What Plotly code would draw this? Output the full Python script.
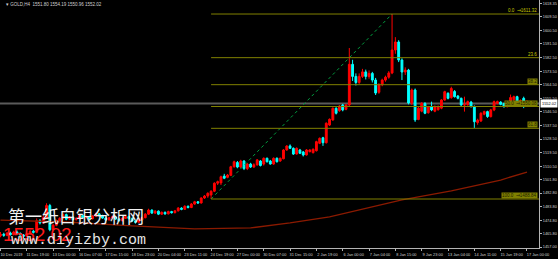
import plotly.graph_objects as go

symbol_title = "GOLD,H4  1551.80 1554.19 1550.96 1552.02"

opens = [1464.5, 1465.5, 1464.8, 1466.3, 1465.2, 1467.0, 1466.0, 1465.0, 1464.2, 1465.8,
         1467.5, 1466.8, 1474.5, 1473.0, 1476.5, 1484.5, 1468.5, 1471.5, 1474.5, 1476.0,
         1478.5, 1475.5, 1476.8, 1475.2, 1476.0, 1478.0, 1476.5, 1477.2, 1475.8, 1477.5,
         1479.0, 1477.8, 1476.2, 1475.0, 1476.4, 1477.0, 1475.6, 1474.5, 1476.0, 1477.2,
         1476.0, 1474.2, 1473.5, 1475.0, 1476.5, 1478.8, 1481.5, 1479.5, 1480.8, 1478.8,
         1480.0, 1479.0, 1480.5, 1479.8, 1481.0, 1482.8, 1482.0, 1484.0, 1483.2, 1485.5,
         1487.0, 1486.2, 1489.5, 1490.8, 1491.5, 1494.0, 1499.3, 1499.5, 1504.0, 1503.2,
         1504.5, 1510.2, 1513.0, 1510.0, 1514.0, 1509.0, 1512.0, 1510.0, 1511.4, 1514.0,
         1512.0, 1515.8, 1514.0, 1512.0, 1515.8, 1514.0, 1515.5, 1521.3, 1524.0, 1522.4,
         1518.6, 1521.3, 1520.0, 1518.0, 1520.2, 1519.5, 1520.8, 1525.7, 1529.4, 1526.1,
         1537.8, 1541.2, 1548.9, 1547.3, 1551.1, 1548.2, 1551.1, 1578.0, 1570.0, 1566.0,
         1570.0, 1573.0, 1570.0, 1572.0, 1567.6, 1559.5, 1564.5, 1567.6, 1569.5, 1572.3,
         1587.5, 1592.8, 1580.9, 1572.9, 1574.2, 1552.4, 1561.0, 1541.5, 1547.0, 1552.0,
         1546.0, 1550.0, 1547.0, 1548.0, 1549.0, 1554.4, 1558.8, 1556.0, 1560.0, 1557.0,
         1555.5, 1551.1, 1551.3, 1553.0, 1550.0, 1539.5, 1540.5, 1545.0, 1546.7, 1543.4,
         1547.8, 1552.2, 1553.0, 1552.0, 1550.0, 1551.0, 1554.5, 1556.6, 1552.5, 1555.5,
         1551.8]
highs = [1467.0, 1466.5, 1467.0, 1467.2, 1467.8, 1468.0, 1466.8, 1465.6, 1466.4, 1468.2,
         1468.4, 1476.0, 1475.6, 1478.0, 1486.0, 1485.6, 1472.2, 1475.2, 1476.8, 1479.4,
         1479.2, 1477.6, 1477.4, 1476.7, 1478.8, 1478.6, 1477.9, 1477.8, 1478.2, 1479.8,
         1479.6, 1478.4, 1476.9, 1477.0, 1477.8, 1477.5, 1476.2, 1476.6, 1477.9, 1477.7,
         1476.5, 1474.8, 1475.6, 1477.1, 1479.5, 1482.4, 1482.0, 1481.5, 1481.3, 1480.6,
         1480.6, 1481.1, 1481.0, 1481.6, 1483.5, 1483.4, 1484.7, 1484.6, 1486.2, 1487.6,
         1487.5, 1490.0, 1491.5, 1493.3, 1494.6, 1499.9, 1501.0, 1504.3, 1505.5, 1505.4,
         1510.8, 1514.2, 1514.0, 1514.8, 1514.6, 1512.6, 1512.8, 1512.5, 1515.3, 1514.6,
         1516.4, 1516.3, 1514.7, 1516.4, 1516.4, 1516.3, 1521.9, 1524.5, 1525.0, 1523.0,
         1523.0, 1522.0, 1520.6, 1521.9, 1521.8, 1522.3, 1527.4, 1529.6, 1530.0, 1539.6,
         1542.2, 1549.5, 1549.6, 1551.0, 1551.8, 1551.7, 1588.8, 1581.0, 1572.0, 1572.0,
         1575.0, 1574.5, 1574.0, 1573.0, 1569.0, 1565.5, 1568.5, 1570.5, 1573.5, 1611.32,
         1596.0, 1594.0, 1582.0, 1576.0, 1575.0, 1562.0, 1562.0, 1550.0, 1553.0, 1553.0,
         1550.5, 1553.3, 1550.8, 1550.8, 1555.0, 1560.5, 1559.5, 1563.2, 1561.0, 1557.7,
         1556.0, 1556.6, 1554.0, 1553.8, 1550.8, 1542.0, 1546.3, 1547.3, 1547.3, 1548.5,
         1554.0, 1554.0, 1553.6, 1552.6, 1551.8, 1558.0, 1557.3, 1557.2, 1554.8, 1556.6,
         1554.19]
lows = [1463.5, 1463.8, 1464.2, 1464.6, 1464.8, 1465.4, 1464.3, 1462.5, 1463.6, 1465.2,
        1466.0, 1466.2, 1472.0, 1472.4, 1476.0, 1467.5, 1467.8, 1470.8, 1473.6, 1475.4,
        1474.8, 1474.9, 1474.6, 1474.5, 1475.5, 1475.9, 1476.0, 1475.2, 1475.3, 1477.0,
        1477.2, 1475.7, 1474.4, 1474.6, 1475.9, 1475.0, 1473.8, 1474.0, 1475.6, 1475.4,
        1473.6, 1472.5, 1473.0, 1474.5, 1476.0, 1478.3, 1479.0, 1479.0, 1478.2, 1478.3,
        1478.4, 1478.6, 1479.2, 1479.3, 1480.6, 1481.4, 1481.6, 1482.6, 1482.8, 1485.0,
        1485.6, 1485.8, 1488.9, 1489.6, 1488.84, 1493.4, 1498.1, 1498.1, 1502.0, 1502.6,
        1504.0, 1509.6, 1509.2, 1509.4, 1508.0, 1508.0, 1509.4, 1509.5, 1511.0, 1510.4,
        1511.0, 1513.0, 1511.6, 1511.5, 1513.0, 1513.5, 1515.1, 1520.8, 1522.0, 1518.0,
        1518.2, 1518.6, 1517.0, 1517.6, 1519.7, 1519.0, 1520.3, 1525.2, 1524.0, 1525.6,
        1537.2, 1540.6, 1544.8, 1546.6, 1546.9, 1547.6, 1550.0, 1567.0, 1564.0, 1565.0,
        1569.0, 1568.0, 1568.5, 1566.0, 1557.7, 1558.5, 1563.5, 1566.5, 1568.5, 1571.5,
        1585.0, 1579.5, 1567.6, 1571.0, 1551.5, 1551.0, 1539.9, 1541.0, 1546.3, 1545.0,
        1545.3, 1547.0, 1546.3, 1547.3, 1548.3, 1553.8, 1554.8, 1555.2, 1556.0, 1554.8,
        1550.5, 1546.7, 1550.6, 1549.4, 1535.9, 1538.0, 1539.8, 1544.3, 1542.6, 1542.8,
        1547.0, 1551.6, 1550.9, 1549.3, 1549.5, 1550.4, 1553.9, 1551.6, 1551.9, 1549.0,
        1550.96]
closes = [1465.5, 1464.8, 1466.3, 1465.2, 1467.0, 1466.0, 1465.0, 1464.2, 1465.8, 1467.5,
          1466.8, 1474.5, 1473.0, 1476.5, 1484.5, 1468.5, 1471.5, 1474.5, 1476.0, 1478.5,
          1475.5, 1476.8, 1475.2, 1476.0, 1478.0, 1476.5, 1477.2, 1475.8, 1477.5, 1479.0,
          1477.8, 1476.2, 1475.0, 1476.4, 1477.0, 1475.6, 1474.5, 1476.0, 1477.2, 1476.0,
          1474.2, 1473.5, 1475.0, 1476.5, 1478.8, 1481.5, 1479.5, 1480.8, 1478.8, 1480.0,
          1479.0, 1480.5, 1479.8, 1481.0, 1482.8, 1482.0, 1484.0, 1483.2, 1485.5, 1487.0,
          1486.2, 1489.5, 1490.8, 1492.6, 1494.0, 1499.3, 1500.3, 1503.6, 1502.6, 1504.7,
          1510.2, 1513.5, 1510.0, 1514.0, 1509.0, 1512.0, 1510.0, 1511.5, 1514.7, 1511.0,
          1515.8, 1513.5, 1512.0, 1515.8, 1513.5, 1515.8, 1521.3, 1523.9, 1522.4, 1518.6,
          1522.4, 1519.1, 1518.0, 1521.3, 1521.3, 1521.8, 1526.8, 1529.0, 1526.1, 1539.0,
          1541.6, 1548.9, 1545.6, 1550.4, 1547.8, 1551.1, 1578.0, 1570.0, 1566.0, 1570.0,
          1573.0, 1570.0, 1572.0, 1567.6, 1559.0, 1564.5, 1567.6, 1569.5, 1572.3, 1587.5,
          1592.8, 1580.9, 1572.9, 1574.2, 1552.4, 1561.0, 1541.2, 1549.0, 1552.2, 1545.6,
          1549.9, 1547.8, 1550.0, 1550.0, 1554.4, 1559.9, 1555.5, 1562.0, 1556.6, 1555.5,
          1551.1, 1551.3, 1553.3, 1550.0, 1540.0, 1541.0, 1545.6, 1546.7, 1543.4, 1547.8,
          1553.3, 1553.3, 1551.5, 1550.0, 1551.0, 1556.0, 1556.6, 1552.2, 1554.0, 1550.5,
          1552.02]
bars = list(range(len(closes)))

x_tick_bars = list(range(0, 161, 8))
x_tick_labels = ["10 Dec 2019", "11 Dec 19:00", "13 Dec 00:00", "16 Dec 07:00", "17 Dec 15:00",
                 "18 Dec 23:00", "20 Dec 04:00", "23 Dec 11:00", "24 Dec 19:00", "27 Dec 00:00",
                 "30 Dec 07:00", "31 Dec 15:00", "2 Jan 19:00", "6 Jan 00:00", "7 Jan 04:00",
                 "8 Jan 15:00", "9 Jan 23:00", "13 Jan 04:00", "14 Jan 11:00", "15 Jan 19:00",
                 "17 Jan 00:00"]

y_tick_values = [1618.35, 1609.50, 1600.50, 1591.50, 1582.50, 1573.50, 1564.50, 1555.50,
                 1546.50, 1537.50, 1528.50, 1519.50, 1510.50, 1501.80, 1492.80, 1483.80,
                 1474.80, 1465.80, 1457.00]
y_tick_labels = ["%.2f" % v for v in y_tick_values]

ma_bars = [0, 20, 40, 59, 76, 88, 100, 115, 122, 137, 152, 160]
ma_values = [1474.9, 1473.6, 1471.0, 1469.0, 1469.7, 1473.0, 1477.0, 1484.9, 1488.2,
             1494.2, 1501.4, 1506.7]

fib_low_bar, fib_high_bar = 64, 119
fib_low, fib_high = 1488.84, 1611.32
fib_ratios = [0.0, 23.6, 38.2, 50.0, 61.8, 100.0]
current_price = 1552.02

watermark_cn = "第一纸白银分析网"
watermark_url = "www.diyizby.com"
watermark_price = "1552.02"

# ---------------------------------------------------------------
PLOT_W, PLOT_H = 539, 248
X_RANGE = [-0.15, 163.65]
Y_RANGE = [1456.4, 1620.6]
FIB_COLOR = "#808000"
SMALL = 3.9

fig = go.Figure()

fig.add_trace(go.Scatter(x=ma_bars, y=ma_values, mode="lines",
                         line=dict(color="#8b1a00", width=1.3), hoverinfo="skip"))

fig.add_trace(go.Candlestick(
    x=bars, open=opens, high=highs, low=lows, close=closes,
    increasing=dict(line=dict(color="#ff0000", width=1), fillcolor="#ff0000"),
    decreasing=dict(line=dict(color="#00ffff", width=1), fillcolor="#00ffff"),
    whiskerwidth=0, hoverinfo="skip"))

# trend line between fib anchors
fig.add_trace(go.Scatter(x=[fib_low_bar, fib_high_bar], y=[fib_low, fib_high], mode="lines",
                         line=dict(color="#00a040", width=1, dash="dot"), hoverinfo="skip"))

shapes = []
annotations = []
span = fib_high - fib_low
for r in fib_ratios:
    lvl = fib_high - r / 100.0 * span
    shapes.append(dict(type="line", xref="x", yref="y", x0=fib_low_bar, x1=X_RANGE[1],
                       y0=lvl, y1=lvl, line=dict(color=FIB_COLOR, width=1), layer="above"))
    if r in (0.0, 50.0, 100.0):
        txt = "%.1f  \u21d2%.2f" % (r, lvl)
    else:
        txt = "%.1f" % r
    boxed = r in (38.2, 50.0, 61.8, 100.0)
    annotations.append(dict(x=1, xref="paper", y=lvl, yref="y", text=txt, showarrow=False,
                            xanchor="right", yanchor="bottom", xshift=-1, yshift=0,
                            font=dict(size=4.5, color="#202000" if boxed else "#c8c800",
                                      family="Liberation Sans"),
                            bgcolor=FIB_COLOR if boxed else "rgba(0,0,0,0)", borderpad=0))

# current price line
shapes.append(dict(type="line", xref="paper", yref="y", x0=0, x1=1, y0=current_price,
                   y1=current_price, line=dict(color="#5a5a5a", width=2), layer="below"))
annotations.append(dict(x=1, xref="paper", y=current_price, yref="y", text="%.2f" % current_price,
                        showarrow=False, xanchor="left", yanchor="middle", xshift=1,
                        font=dict(size=SMALL, color="#000000", family="Liberation Sans"),
                        bgcolor="#ffffff", borderpad=1))

annotations.append(dict(x=4 / PLOT_W, xref="paper", y=1 - 5 / PLOT_H, yref="paper",
                        text="\u25be " + symbol_title, showarrow=False, xanchor="left",
                        yanchor="middle",
                        font=dict(size=4.5, color="#d0d0d0", family="Liberation Sans")))

annotations.append(dict(x=6 / PLOT_W, xref="paper", y=1 - 215 / PLOT_H, yref="paper",
                        text=watermark_cn, showarrow=False, xanchor="left", yanchor="middle",
                        font=dict(size=17, color="#f2f2f2", family="Noto Sans CJK SC")))
annotations.append(dict(x=1 / PLOT_W, xref="paper", y=1 - 234 / PLOT_H, yref="paper",
                        text=watermark_price, showarrow=False, xanchor="left", yanchor="middle",
                        font=dict(size=19, color="#ff1a1a", family="Liberation Sans")))
annotations.append(dict(x=9 / PLOT_W, xref="paper", y=1 - 240 / PLOT_H, yref="paper",
                        text=watermark_url, showarrow=False, xanchor="left", yanchor="middle",
                        font=dict(size=15, color="#e6e6e6", family="Liberation Mono")))

fig.update_layout(
    width=558, height=259,
    margin=dict(l=0, r=19, t=0, b=11),
    paper_bgcolor="#000000", plot_bgcolor="#000000",
    showlegend=False, boxgap=0.2,
    shapes=shapes, annotations=annotations,
    xaxis=dict(range=X_RANGE, rangeslider=dict(visible=False), showgrid=False, zeroline=False,
               tickmode="array", tickvals=x_tick_bars, ticktext=x_tick_labels,
               ticks="outside", ticklen=2, tickcolor="#b4b4b4", tickangle=0, automargin=False,
               showline=True, linecolor="#b4b4b4", linewidth=1,
               tickfont=dict(size=SMALL, color="#d0d0d0", family="Liberation Sans"),
               ticklabelshift=11, ticklabelstandoff=0, ticklabeloverflow="allow"),
    yaxis=dict(range=Y_RANGE, side="right", showgrid=False, zeroline=False, automargin=False,
               tickmode="array", tickvals=y_tick_values, ticktext=y_tick_labels,
               ticks="outside", ticklen=2, tickcolor="#b4b4b4",
               showline=True, linecolor="#b4b4b4", linewidth=1,
               tickfont=dict(size=SMALL, color="#d0d0d0", family="Liberation Sans"),
               ticklabelstandoff=0, ticklabeloverflow="allow"),
)

fig.write_html("out.html")
